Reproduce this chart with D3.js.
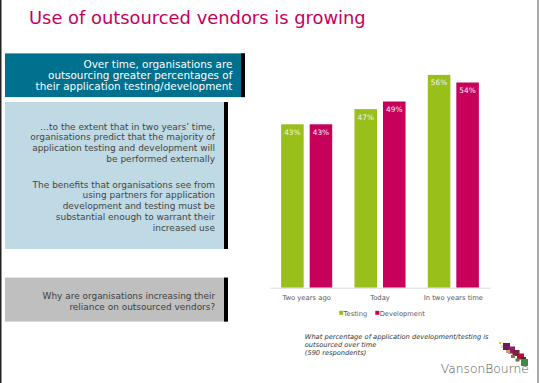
<!DOCTYPE html>
<html><head><meta charset="utf-8">
<script src="https://cdn.jsdelivr.net/npm/d3@7/dist/d3.min.js"></script>
<style>body{margin:0;background:#fff}svg{display:block}text{font-family:"DejaVu Sans",Verdana,sans-serif}</style>
</head><body>
<svg id="c" width="540" height="383"></svg>
<script>
const categories = ["Two years ago", "Today", "In two years time"];
const seriesNames = ["Testing", "Development"];
const testing = [43, 47, 56];
const development = [43, 49, 54];
const yTicks = [0, 60];

const svg = d3.select("#c");
const W = 540, H = 383;
const green = "#99bf1a", magenta = "#c7005b";

function fit(sel, target) {
  const w = sel.node().getComputedTextLength();
  const fs = parseFloat(sel.attr("font-size"));
  sel.attr("font-size", fs * target / w);
  return fs * target / w;
}

// frame
svg.append("line").attr("x1",0.75).attr("x2",0.75).attr("y1",0).attr("y2",H).attr("stroke","#222").attr("stroke-width",1.5);
svg.append("line").attr("x1",538).attr("x2",538).attr("y1",0).attr("y2",H).attr("stroke","#555").attr("stroke-width",1);

// title
fit(svg.append("text").attr("x",29).attr("y",24).attr("font-size",18).attr("fill","#c4005e")
  .text("Use of outsourced vendors is growing"), 337);

// boxes
function box(x, y, w, h, fill, lines, color, tx, widest, target) {
  svg.append("rect").attr("x",x).attr("y",y).attr("width",w).attr("height",h).attr("fill",fill);
  svg.append("rect").attr("x",x+w-4).attr("y",y).attr("width",4).attr("height",h).attr("fill","#000");
  const texts = lines.map(l => svg.append("text").attr("x",tx).attr("y",l[1]).attr("text-anchor","end")
    .attr("font-size",10).attr("fill",color).text(l[0]));
  const w0 = texts[widest].node().getComputedTextLength();
  const fs = 10 * target / w0;
  texts.forEach(t => t.attr("font-size", fs));
}
box(5, 53.4, 240, 43.7, "#00708f", [
  ["Over time, organisations are", 67.5],
  ["outsourcing greater percentages of", 78.8],
  ["their application testing/development", 90.1]
], "#ffffff", 232.4, 2, 197);

box(5, 102, 223, 147, "#bfdae5", [
  ["\u2026to the extent that in two years\u2019 time,", 129.5],
  ["organisations predict that the majority of", 140.3],
  ["application testing and development will", 151.1],
  ["be performed externally", 161.9],
  ["The benefits that organisations see from", 187.5],
  ["using partners for application", 198.3],
  ["development and testing must be", 209.1],
  ["substantial enough to warrant their", 219.9],
  ["increased use", 230.7]
], "#444444", 215, 1, 185);

box(5, 277.6, 223, 44, "#bfbfbf", [
  ["Why are organisations increasing their", 299],
  ["reliance on outsourced vendors?", 309.6]
], "#404040", 215.2, 0, 173);

// chart
const x0 = d3.scaleBand().domain(categories).range([270, 490]).paddingInner(0).paddingOuter(0);
const x1 = d3.scaleBand().domain(seriesNames).range([0, x0.bandwidth()]).paddingInner(0.21).paddingOuter(0.39);
const y = d3.scaleLinear().domain(d3.extent(yTicks)).range([287.7, 59.7]);
const data = categories.map((c, i) => ({c, vals: [{s:"Testing", v:testing[i]}, {s:"Development", v:development[i]}]}));
const color = d3.scaleOrdinal().domain(seriesNames).range([green, magenta]);

const g = svg.append("g");
const grp = g.selectAll("g.grp").data(data).join("g").attr("transform", d => `translate(${x0(d.c)},0)`);
grp.selectAll("rect").data(d => d.vals).join("rect")
  .attr("x", d => x1(d.s)).attr("width", x1.bandwidth())
  .attr("y", d => y(d.v)).attr("height", d => y(0) - y(d.v)).attr("fill", d => color(d.s));
grp.selectAll("text").data(d => d.vals).join("text")
  .attr("x", d => x1(d.s) + x1.bandwidth()/2).attr("y", d => y(d.v) + 10.5)
  .attr("text-anchor","middle").attr("font-size",7.4).attr("fill","#f2f2f2").text(d => d.v + "%");

// axis
const ax = svg.append("g").attr("transform", `translate(0,${y(0)})`).call(d3.axisBottom(x0).tickSize(0).tickPadding(7));
ax.select(".domain").attr("stroke","#d9d9d9");
const axt = ax.selectAll("text").attr("font-size",8).attr("fill","#595959").attr("font-family","DejaVu Sans, Verdana, sans-serif");
const lastTick = ax.selectAll(".tick text").filter(d => d === "In two years time");
const afs = 8 * 59.5 / lastTick.node().getComputedTextLength();
axt.attr("font-size", afs);

// legend
const leg = [{s:"Testing", x:339.2}, {s:"Development", x:375.3}];
leg.forEach(l => {
  svg.append("rect").attr("x", l.x).attr("y", 310.8).attr("width",4).attr("height",4).attr("fill", color(l.s));
  const t = svg.append("text").attr("x", l.x+4.4).attr("y", 316).attr("font-size",8).attr("fill","#595959").text(l.s);
  if (l.s === "Development") { const f = fit(t, 45.2); }
});
svg.selectAll("text").filter(function(){ return this.textContent === "Testing"; })
  .attr("font-size", svg.selectAll("text").filter(function(){ return this.textContent === "Development"; }).attr("font-size"));

// footnote
const fn = [["What percentage of application development/testing is", 339], ["outsourced over time", 346.8], ["(590 respondents)", 354.6]];
const fts = fn.map(f => svg.append("text").attr("x",304.8).attr("y",f[1]).attr("font-size",8).attr("font-style","italic").attr("fill","#333").text(f[0]));
const fw = fts[0].node().getComputedTextLength();
fts.forEach(t => t.attr("font-size", 8*184/fw));

// logo squares
const sq = [[499,342,2,2,"#f2d000"],[501,345,3,3,"#f3e7a0"],[503,343,7,7,"#6b1a5a"],[508,346.5,7,7,"#8e1e66"],[506,350,4,3,"#c8a46a"],[512.5,350,7,6,"#7a2436"],[511,355,4,3,"#8a7048"],[517,353.5,7,6,"#b8102c"],[515.5,358.5,4,3,"#6e6e58"],[521,357,5,4,"#3a3a3a"],[521,359,7,7,"#3f8c3c"]];
sq.forEach(s => svg.append("rect").attr("x",s[0]).attr("y",s[1]).attr("width",s[2]).attr("height",s[3]).attr("fill",s[4]));
fit(svg.append("text").attr("x",440.7).attr("y",372.7).attr("font-size",15).attr("font-weight",300)
  .attr("font-family","Open Sans, sans-serif").attr("fill","#555").text("VansonBourne"), 88.3);
</script>
</body></html>
